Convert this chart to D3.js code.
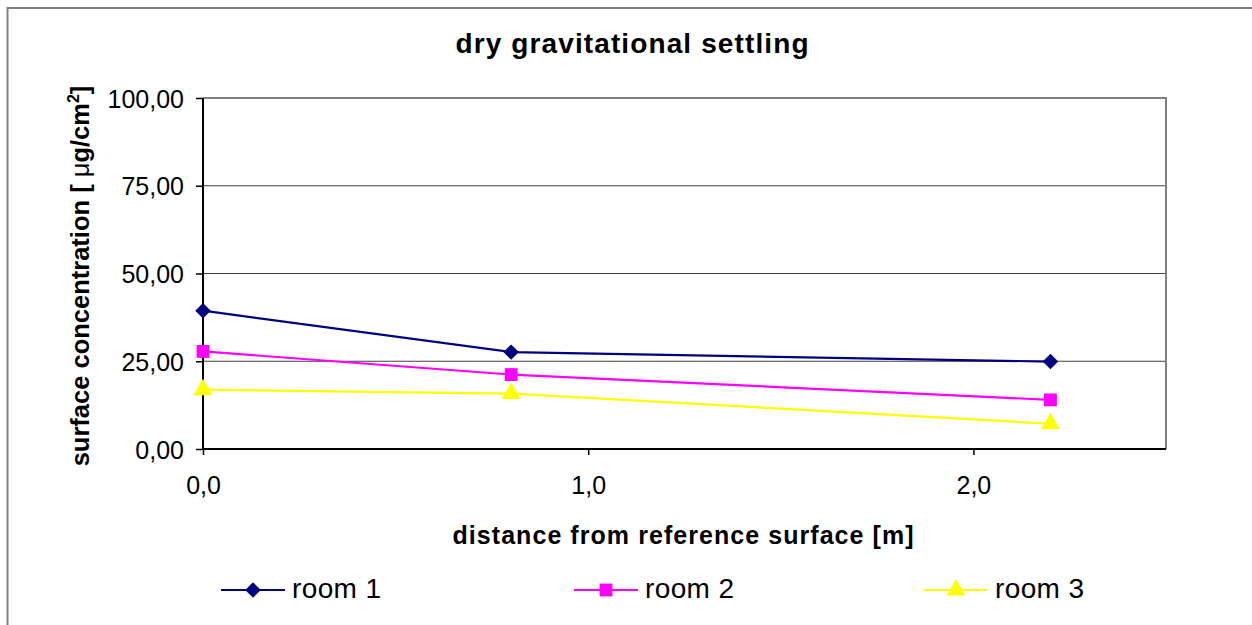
<!DOCTYPE html>
<html>
<head>
<meta charset="utf-8">
<script src="https://cdn.jsdelivr.net/npm/d3@7"></script>
<style>
  html, body { margin: 0; padding: 0; background: #fff; overflow: hidden; }
  text { font-family: "Liberation Sans", Arial, sans-serif; }
</style>
</head>
<body>
<script>
// chart data
const distance = [0, 0.8, 2.2];
const seriesNames = ['room 1', 'room 2', 'room 3'];
const room1 = [39.4, 27.6, 24.9];
const room2 = [27.8, 21.2, 14.0];
const room3 = [16.9, 15.8, 7.2];
const yTicks = [0, 25, 50, 75, 100];
const xTicks = [0, 1, 2];

const width = 1252;
const height = 625;
const plot = {left: 203, top: 98, right: 1166, bottom: 449};

const colors = ['#000080', '#ff00ff', '#ffff00'];
// diamond = square turned 45 degrees, like the spreadsheet marker
const symbols = [d3.symbolSquare, d3.symbolSquare, d3.symbolTriangle];
const symbolSizes = [120, 165, 155];
const symbolRotate = [45, 0, 0];

const series = [room1, room2, room3].map((vals, i) => ({
  name: seriesNames[i],
  color: colors[i],
  symbol: symbols[i],
  size: symbolSizes[i],
  rot: symbolRotate[i],
  points: vals.map((v, j) => ({x: distance[j], y: v}))
}));

const svg = d3.select('body').append('svg')
  .attr('width', width)
  .attr('height', height);

// outer chart frame (runs off the picture to the right and bottom)
svg.append('rect')
  .attr('x', 7.5).attr('y', 8)
  .attr('width', 1260).attr('height', 640)
  .attr('fill', '#fff')
  .attr('stroke', '#808080')
  .attr('stroke-width', 2);

const x = d3.scaleLinear().domain([0, 2.5]).range([plot.left, plot.right]);
const y = d3.scaleLinear().domain([0, 100]).range([plot.bottom, plot.top]);

// gridlines
svg.append('g')
  .selectAll('line')
  .data(yTicks.filter(t => t > 0 && t < 100))
  .enter()
    .append('line')
      .attr('x1', plot.left).attr('x2', plot.right)
      .attr('y1', d => y(d)).attr('y2', d => y(d))
      .attr('stroke', '#404040')
      .attr('stroke-width', 1);

// top and right frame of plot area
svg.append('path')
  .attr('d', `M${plot.left},${y(100)}H${plot.right}V${plot.bottom}`)
  .attr('fill', 'none')
  .attr('stroke', '#808080')
  .attr('stroke-width', 2);

const fmtY = d => d3.format('.2f')(d).replace('.', ',');
const fmtX = d => d3.format('.1f')(d).replace('.', ',');

const yAxis = svg.append('g')
  .attr('transform', `translate(${plot.left},0)`)
  .call(d3.axisLeft(y).tickValues(yTicks).tickSize(7).tickPadding(12).tickFormat(fmtY));

const xAxis = svg.append('g')
  .attr('transform', `translate(0,${plot.bottom})`)
  .call(d3.axisBottom(x).tickValues(xTicks).tickSize(6).tickPadding(21).tickFormat(fmtX));

[yAxis, xAxis].forEach(ax => {
  ax.select('.domain').attr('stroke', '#000').attr('stroke-width', 2);
  ax.selectAll('.tick line').attr('stroke', '#000').attr('stroke-width', 1.5);
  ax.selectAll('.tick text')
    .attr('fill', '#000')
    .style('font-size', '25px')
    .style('font-family', '"Liberation Sans", Arial, sans-serif');
});
yAxis.selectAll('.tick text').attr('dy', '0.36em');
yAxis.select('.domain').attr('d', `M0,${plot.top}V${plot.bottom}`);
xAxis.select('.domain').attr('d', `M${plot.left},0H${plot.right}`);

// lines and markers
const line = d3.line().x(d => x(d.x)).y(d => y(d.y));

const g = svg.append('g');
series.forEach(s => {
  g.append('path')
    .datum(s.points)
    .attr('d', line)
    .attr('fill', 'none')
    .attr('stroke', s.color)
    .attr('stroke-width', 2.2);
  g.selectAll(null)
    .data(s.points)
    .enter()
      .append('path')
        .attr('d', d3.symbol().type(s.symbol).size(s.size))
        .attr('transform', d => `translate(${x(d.x)},${y(d.y)}) rotate(${s.rot})`)
        .attr('fill', s.color);
});

// title
svg.append('text')
  .attr('x', 632).attr('y', 53)
  .attr('text-anchor', 'middle')
  .attr('textLength', 353)
  .attr('lengthAdjust', 'spacing')
  .style('font-size', '28px')
  .style('font-weight', 'bold')
  .text('dry gravitational settling');

// x axis title
svg.append('text')
  .attr('x', 683).attr('y', 544)
  .attr('text-anchor', 'middle')
  .attr('textLength', 461)
  .attr('lengthAdjust', 'spacing')
  .style('font-size', '25px')
  .style('font-weight', 'bold')
  .text('distance from reference surface [m]');

// y axis title
const yTitle = svg.append('text')
  .attr('transform', 'translate(89,276) rotate(-90)')
  .attr('text-anchor', 'middle')
  .style('font-size', '25.5px')
  .style('font-weight', 'bold');
yTitle.append('tspan').text('surface concentration [ ');
yTitle.append('tspan').style('font-weight', 'normal').text('μ');
yTitle.append('tspan').text('g/cm');
yTitle.append('tspan').attr('dy', -10).style('font-size', '16px').text('2');
yTitle.append('tspan').attr('dy', 10).text(']');

// legend
const legendX = [221, 574, 924];
const legend = svg.append('g')
  .selectAll('g')
  .data(series)
  .enter()
    .append('g')
      .attr('transform', (d, i) => `translate(${legendX[i]},590)`);

legend.append('line')
  .attr('x1', 0).attr('x2', 64)
  .attr('stroke', d => d.color)
  .attr('stroke-width', 2.2);
legend.append('path')
  .attr('d', d => d3.symbol().type(d.symbol).size(d.size)())
  .attr('transform', d => `translate(32,0) rotate(${d.rot})`)
  .attr('fill', d => d.color);
legend.append('text')
  .attr('x', 71).attr('y', -2)
  .attr('dy', '0.36em')
  .attr('textLength', 89)
  .attr('lengthAdjust', 'spacing')
  .style('font-size', '28px')
  .text(d => d.name);
</script>
</body>
</html>
